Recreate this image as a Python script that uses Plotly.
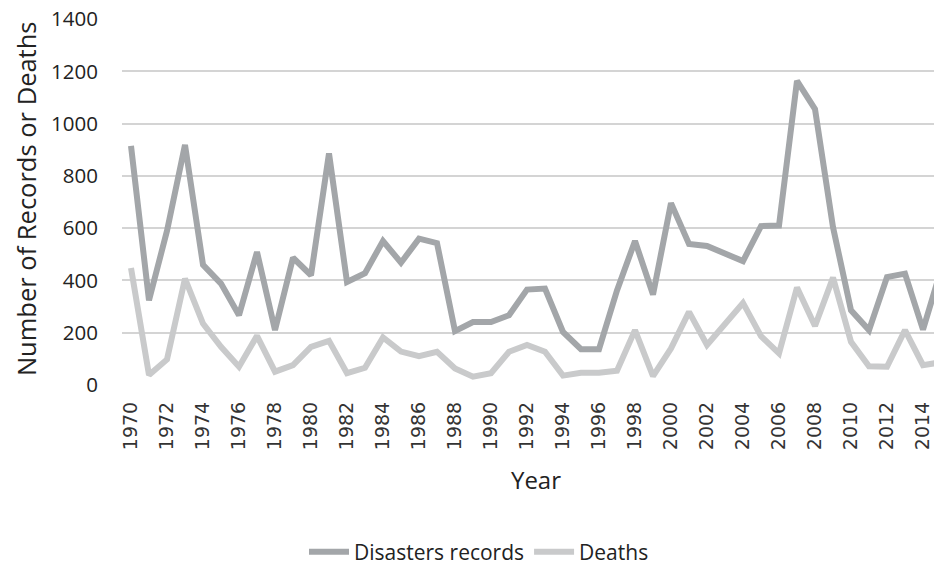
import plotly.graph_objects as go

years = list(range(1970, 2016))
disasters = [915, 324, 590, 919, 460, 388, 267, 509, 210, 487,
             420, 886, 394, 428, 551, 468, 560, 543, 206, 241,
             241, 267, 365, 369, 203, 137, 137, 362, 551, 346,
             696, 540, 532, 502, 474, 608, 610, 1164, 1056, 604,
             286, 210, 413, 426, 212, 441]
deaths = [448, 38, 98, 407, 235, 146, 70, 188, 51, 76,
          146, 169, 45, 66, 182, 128, 110, 127, 63, 32,
          45, 127, 153, 127, 36, 47, 47, 55, 210, 34,
          140, 280, 153, 235, 314, 187, 121, 373, 226, 411,
          165, 72, 70, 210, 76, 87]
tick_years = list(range(1970, 2016, 2))
y_ticks = list(range(0, 1401, 200))

fig = go.Figure()
fig.add_trace(go.Scatter(x=years, y=disasters, mode="lines", name="Disasters records",
                         line=dict(color="#A3A6A9", width=6)))
fig.add_trace(go.Scatter(x=years, y=deaths, mode="lines", name="Deaths",
                         line=dict(color="#C9CACB", width=6)))

fig.update_layout(
    width=942, height=568,
    margin=dict(l=114, r=0, t=11, b=191),
    plot_bgcolor="white", paper_bgcolor="white",
    font=dict(family="Open Sans", color="#222222"),
    showlegend=True,
    legend=dict(orientation="h", xref="container", yref="container",
                x=0.5, xanchor="center", y=0.042, yanchor="middle",
                font=dict(family="Open Sans", size=21, color="#222222"),
                itemwidth=40, tracegroupgap=0),
    xaxis=dict(range=[1969.5, 2015.5], tickmode="array", tickvals=tick_years,
               ticktext=[str(t) for t in tick_years], tickangle=-90,
               tickfont=dict(family="DejaVu Sans", size=19, color="#333333"),
               showgrid=False, zeroline=False, showline=False, automargin=False,
               ticks="", ticklabelstandoff=12,
               title=dict(text="Year", font=dict(family="Open Sans", size=24, color="#222222"),
                          standoff=23)),
    yaxis=dict(range=[0, 1400.5], tickmode="array", tickvals=y_ticks,
               showgrid=True, gridcolor="#D4D4D4", gridwidth=2,
               zeroline=False, showline=False, ticklabeloverflow="allow", automargin=False,
               tickfont=dict(family="Open Sans", size=20.5, color="#222222"),
               ticks="", ticklabelstandoff=23),
    annotations=[dict(text="Number of Records or Deaths", xref="paper", yref="paper",
                      x=-0.115, y=0.51, xanchor="center", yanchor="middle",
                      textangle=-90, showarrow=False,
                      font=dict(family="Open Sans", size=25.5, color="#222222"))],
)

fig.write_html("out.html")
